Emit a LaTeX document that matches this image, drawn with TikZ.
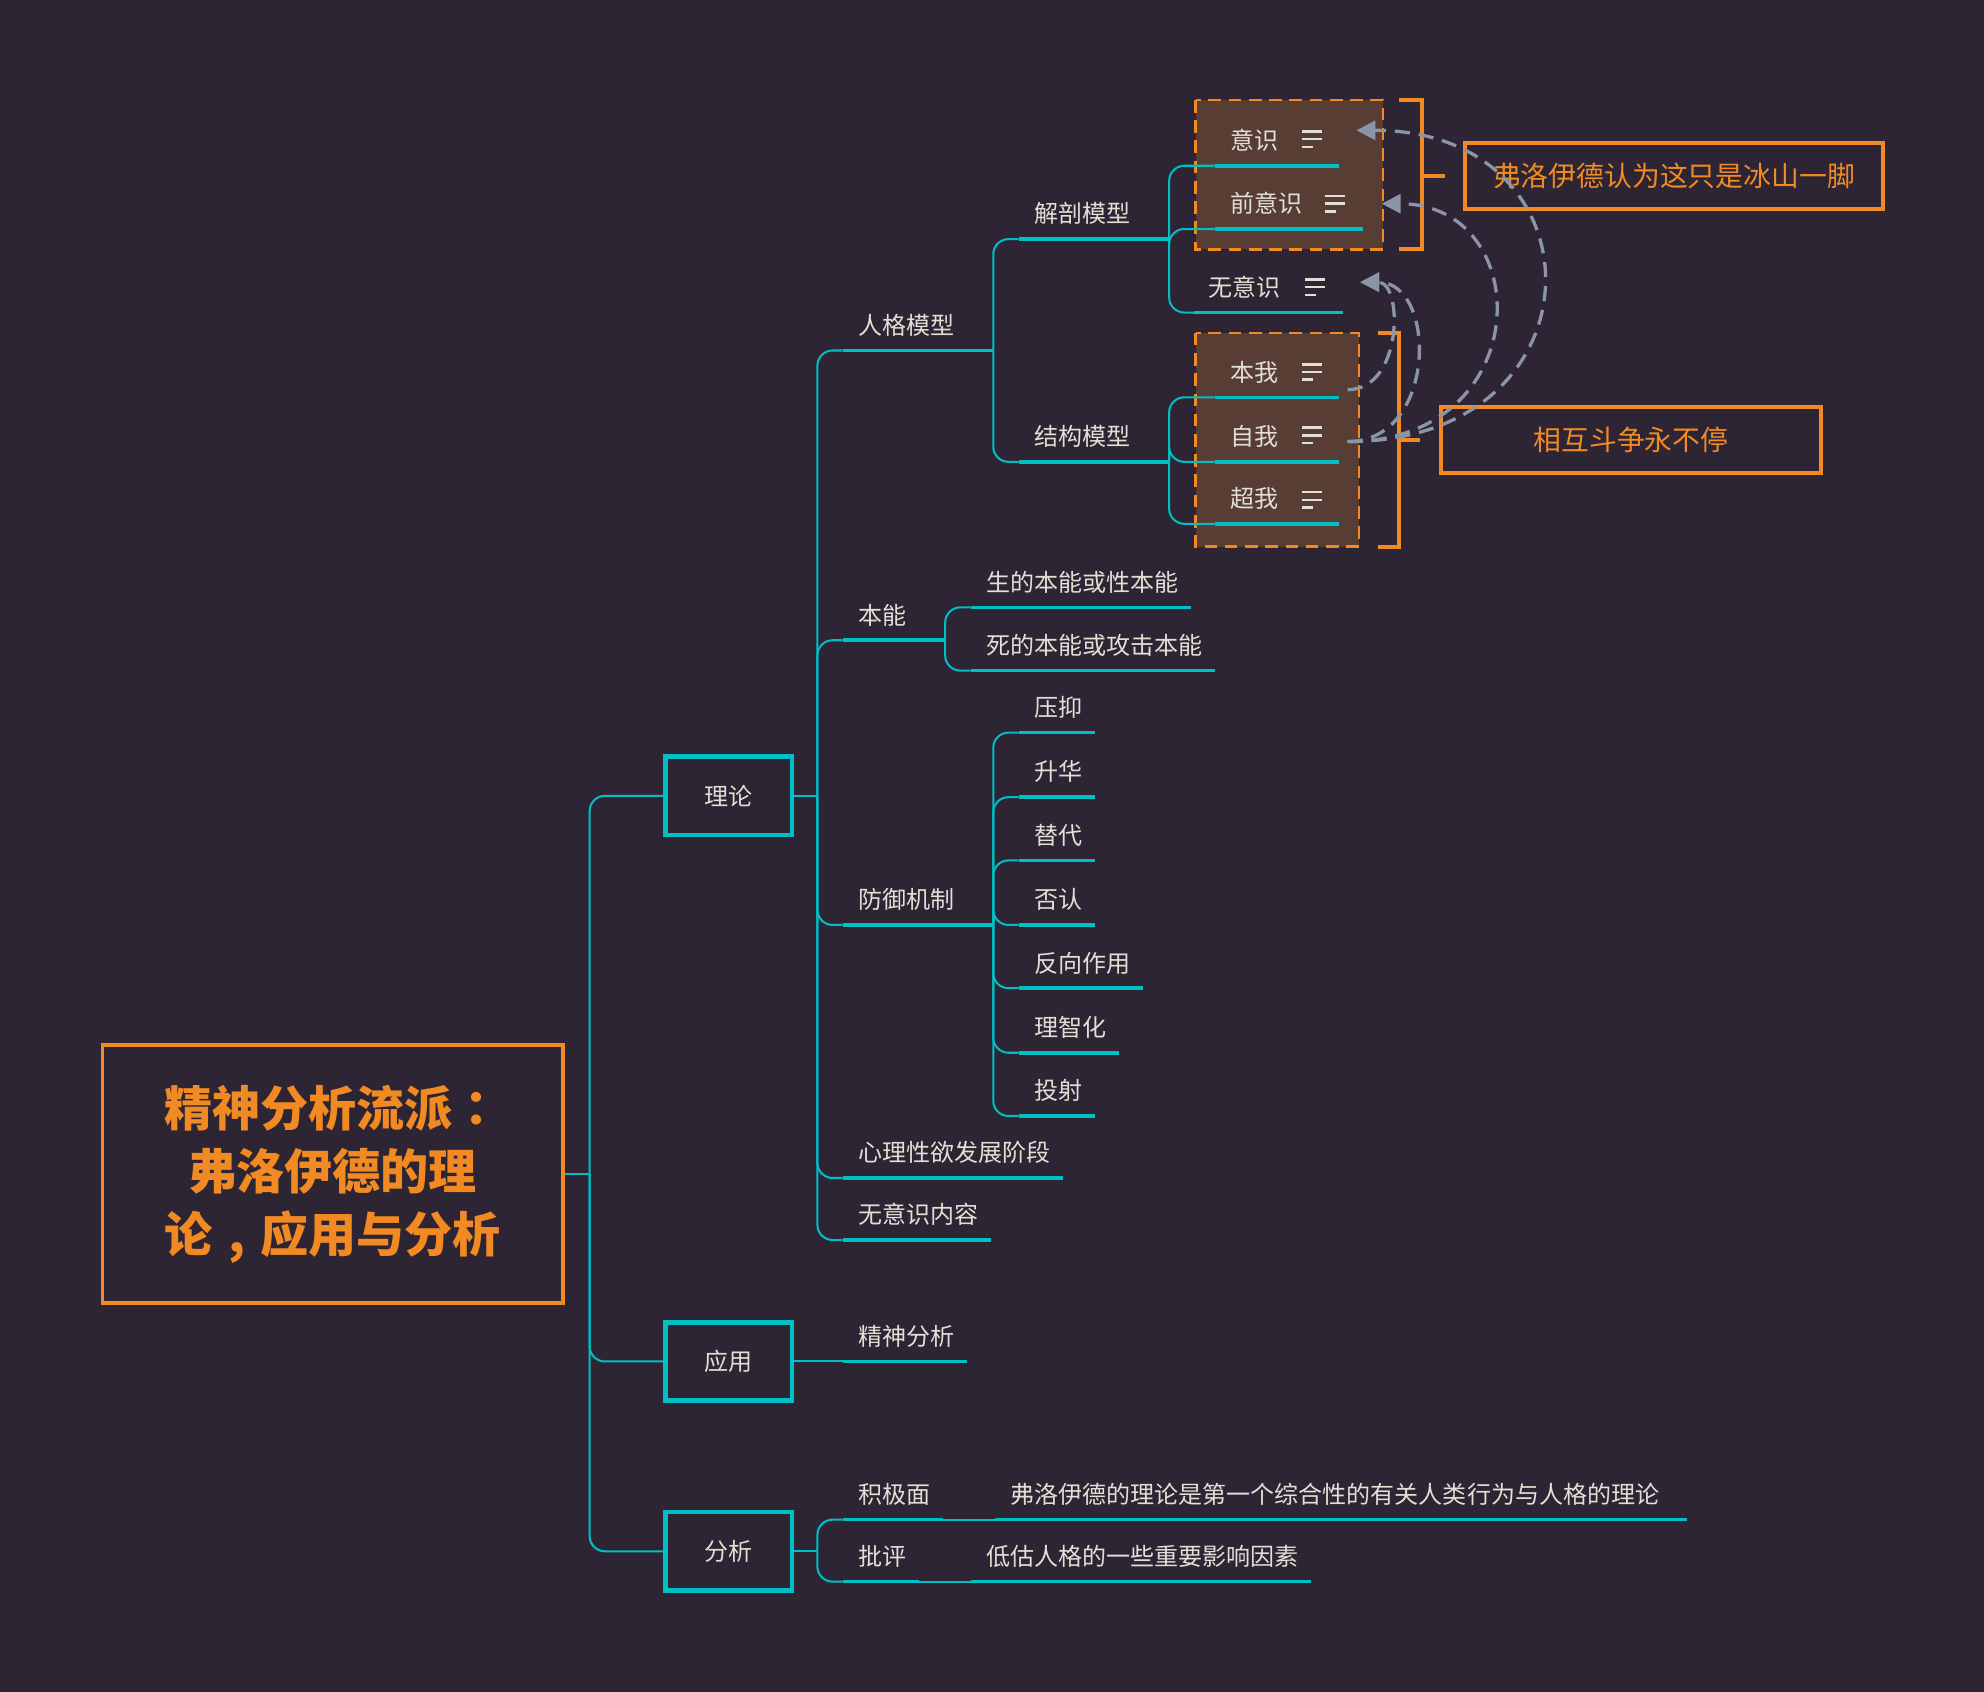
\documentclass[tikz,border=0pt]{standalone}
\usepackage{fontspec}
\setmainfont{Noto Sans CJK SC}
\newfontfamily\tcpunct{Noto Sans CJK TC}
\usetikzlibrary{arrows.meta}
\definecolor{bg}{RGB}{45,37,52}
\definecolor{cy}{RGB}{0,192,197}
\definecolor{org}{RGB}{242,138,36}
\definecolor{txt}{RGB}{226,223,212}
\definecolor{brn}{RGB}{87,61,51}
\definecolor{arr}{RGB}{138,150,168}
\tikzset{
  lbl/.style={text=txt, font=\fontsize{9.5pt}{11pt}\selectfont, inner sep=0pt, anchor=west},
  uline/.style={draw=cy, line width=1.4pt},
  conn/.style={draw=cy, line width=0.8pt, rounded corners=6pt},
  catbox/.style={draw=cy, line width=1.8pt, minimum width=50pt, minimum height=31pt, text=txt, font=\fontsize{9.5pt}{11pt}\selectfont, inner sep=0pt},
  grp/.style={draw=org, dash pattern=on 5pt off 3pt, line width=1pt, fill=brn},
  brk/.style={draw=org, line width=1.6pt},
  callout/.style={draw=org, line width=1.6pt, text=org, font=\fontsize{11pt}{13pt}\selectfont, inner sep=0pt},
  rel/.style={draw=arr, line width=1.3pt, dash pattern=on 6pt off 3.5pt, -{Triangle[length=7.5pt,width=7.5pt]}},
  iconline/.style={draw=txt, line width=1pt},
  notes/.pic={\draw[iconline] (-8,-6) -- (8,-6) (-8,0) -- (8,0) (-8,6) -- (1,6);}
}
% name, text, text left x, line y, underline start x, underline end x
\newcommand\topic[6]{%
  \coordinate (#1-s) at (#5,#4);
  \coordinate (#1-e) at (#6,#4);
  \node[lbl] (#1) at (#3,{#4-20}) {#2};
  \draw[uline] (#1-s) -- (#1-e);
}
\begin{document}
\begin{tikzpicture}[x=0.5pt,y=-0.5pt]
\fill[bg] (0,0) rectangle (1568,1337);
\useasboundingbox (0,0) rectangle (1568,1337);

% groups
\draw[grp] (945,79) rectangle (1093,197);
\draw[grp] (945,263) rectangle (1074,432);

% brackets
\draw[brk] (1106,79) -- (1124,79) -- (1124,197) -- (1106,197);
\draw[brk] (1124,139) -- (1142,139);
\draw[brk] (1089,263) -- (1106,263) -- (1106,432) -- (1089,432);
\draw[brk] (1106,348) -- (1122,348);

% callouts
\node[callout, minimum width=165pt, minimum height=26pt] (co1) at (1323,139) {弗洛伊德认为这只是冰山一脚};
\node[callout, minimum width=150pt, minimum height=26pt] (co2) at (1289,348) {相互斗争永不停};

% root
\node[draw=org, line width=1.5pt, minimum width=182pt, minimum height=102pt, text=org,
      font=\fontsize{19pt}{25pt}\selectfont\bfseries, align=center, inner sep=0pt] (title) at (263,928)
      {精神分析流派{\tcpunct\bfseries ：}\\弗洛伊德的理\\论\makebox[1em][c]{,}应用与分析};
\coordinate (tj) at (466,928);

% categories
\node[catbox] (lilun) at (576,629) {理论};
\node[catbox] (yingyong) at (576,1076) {应用};
\node[catbox] (fenxi) at (576,1226) {分析};
\draw[conn] (title.east) -- (tj);
\draw[conn] (tj) |- (lilun.west);
\draw[conn] (tj) |- (yingyong.west);
\draw[conn] (tj) |- (fenxi.west);

% theory children
\coordinate (lilun-j) at (646,629);
\draw[conn] (lilun.east) -- (lilun-j);
\topic{renge}{人格模型}{678}{277}{666}{785}
\topic{benneng}{本能}{678}{506}{666}{747}
\topic{fangyu}{防御机制}{678}{731}{666}{785}
\topic{xinli}{心理性欲发展阶段}{678}{931}{666}{840}
\topic{wuyinei}{无意识内容}{678}{980}{666}{783}
\foreach \c in {renge,benneng,fangyu,xinli,wuyinei} \draw[conn] (lilun-j) |- (\c-s);

% personality model
\topic{jiepou}{解剖模型}{817}{189}{805}{924}
\topic{jiegou}{结构模型}{817}{365}{805}{924}
\foreach \c in {jiepou,jiegou} \draw[conn] (renge-e) |- (\c-s);

\topic{yishi}{意识}{972}{131}{960}{1058}
\topic{qianyishi}{前意识}{972}{181}{960}{1077}
\topic{wuyishi}{无意识}{955}{247}{944}{1061}
\foreach \c in {yishi,qianyishi,wuyishi} \draw[conn] (jiepou-e) |- (\c-s);
\pic at (1037,110) {notes};
\pic at (1055,161) {notes};
\pic at (1039,227) {notes};

\topic{benwo}{本我}{972}{314}{960}{1058}
\topic{ziwo}{自我}{972}{365}{960}{1058}
\topic{chaowo}{超我}{972}{414}{960}{1058}
\foreach \c in {benwo,ziwo,chaowo} \draw[conn] (jiegou-e) |- (\c-s);
\pic at (1037,294) {notes};
\pic at (1037,344) {notes};
\pic at (1037,395) {notes};

% instincts
\topic{sheng}{生的本能或性本能}{779}{480}{767}{941}
\topic{si}{死的本能或攻击本能}{779}{530}{767}{960}
\foreach \c in {sheng,si} \draw[conn] (benneng-e) |- (\c-s);

% defence mechanisms
\topic{yayi}{压抑}{817}{579}{805}{865}
\topic{shenghua}{升华}{817}{630}{805}{865}
\topic{tidai}{替代}{817}{680}{805}{865}
\topic{fouren}{否认}{817}{731}{805}{865}
\topic{fanxiang}{反向作用}{817}{781}{805}{903}
\topic{lizhi}{理智化}{817}{832}{805}{884}
\topic{toushe}{投射}{817}{882}{805}{865}
\foreach \c in {yayi,shenghua,tidai,fouren,fanxiang,lizhi,toushe} \draw[conn] (fangyu-e) |- (\c-s);

% application
\topic{jingshen}{精神分析}{678}{1076}{666}{764}
\draw[conn] (yingyong.east) -- (jingshen-s);

% analysis
\coordinate (fenxi-j) at (646,1226);
\draw[conn] (fenxi.east) -- (fenxi-j);
\topic{jiji}{积极面}{678}{1201}{666}{745}
\topic{piping}{批评}{678}{1250}{666}{726}
\foreach \c in {jiji,piping} \draw[conn] (fenxi-j) |- (\c-s);
\topic{jijit}{弗洛伊德的理论是第一个综合性的有关人类行为与人格的理论}{798}{1201}{786}{1333}
\topic{pipingt}{低估人格的一些重要影响因素}{779}{1250}{767}{1036}
\draw[conn] (jiji-e) -- (jijit-s);
\draw[conn] (piping-e) -- (pipingt-s);

% relation arrows
\coordinate (benwo-o) at (1065,308);
\coordinate (ziwo-o) at (1065,349);
\coordinate (yishi-i) at (1072,103);
\coordinate (qian-i) at (1092,161);
\coordinate (wu-i) at (1075,223);
\draw[rel] (ziwo-o) .. controls +(205,0) and +(198,0) .. (yishi-i);
\draw[rel] (ziwo-o) .. controls +(150,0) and +(123,0) .. (qian-i);
\draw[rel] (ziwo-o) .. controls +(71,0) and +(61,0) .. (wu-i);
\draw[rel] (benwo-o) .. controls +(44,0) and +(34,0) .. (wu-i);
\end{tikzpicture}
\end{document}
